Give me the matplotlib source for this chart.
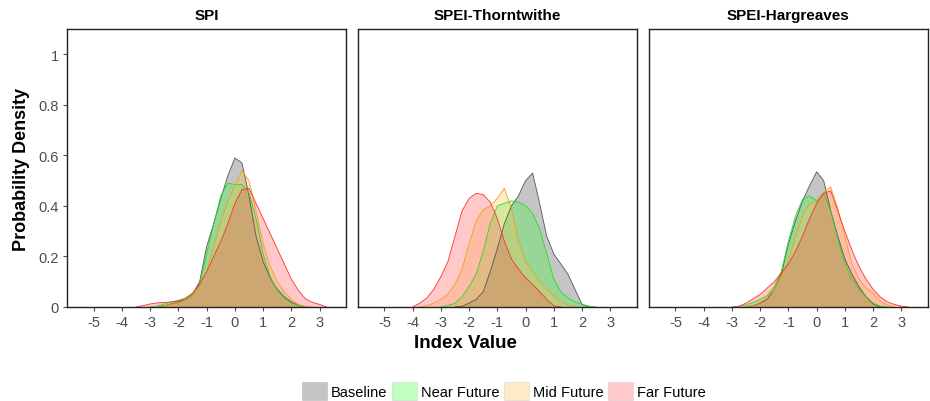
import numpy as np
import matplotlib
matplotlib.use("Agg")
import matplotlib.pyplot as plt
from matplotlib.patches import Patch

plt.rcParams['font.family'] = ['Liberation Sans', 'DejaVu Sans']

# common x grid of the density curves
xs = [-4, -3.75, -3.5, -3.25, -3, -2.75, -2.5, -2.25, -2, -1.75, -1.5, -1.25,
      -1, -0.75, -0.5, -0.25, 0, 0.25, 0.5, 0.75, 1, 1.25, 1.5, 1.75,
      2, 2.25, 2.5, 2.75, 3, 3.25]

panels = ['SPI', 'SPEI-Thorntwithe', 'SPEI-Hargreaves']
periods = ['Baseline', 'Near Future', 'Mid Future', 'Far Future']

# SPI
spi_base = [0, 0, 0, 0, 0, 0, 0.005, 0.012, 0.02, 0.03, 0.05, 0.1,
            0.24, 0.33, 0.43, 0.52, 0.59, 0.57, 0.44, 0.28, 0.18, 0.115, 0.07, 0.04,
            0.02, 0.006, 0, 0, 0, 0]
spi_near = [0, 0, 0, 0, 0, 0.003, 0.012, 0.02, 0.025, 0.03, 0.05, 0.09,
            0.21, 0.33, 0.44, 0.49, 0.485, 0.485, 0.45, 0.35, 0.21, 0.12, 0.065, 0.035,
            0.015, 0.005, 0, 0, 0, 0]
spi_mid = [0, 0, 0, 0, 0, 0, 0.005, 0.01, 0.015, 0.025, 0.04, 0.08,
           0.14, 0.24, 0.34, 0.42, 0.48, 0.54, 0.5, 0.38, 0.25, 0.16, 0.1, 0.06,
           0.03, 0.01, 0.002, 0, 0, 0]
spi_far = [0, 0, 0, 0.005, 0.012, 0.016, 0.018, 0.02, 0.025, 0.035, 0.055, 0.09,
           0.14, 0.2, 0.26, 0.33, 0.41, 0.465, 0.47, 0.41, 0.35, 0.29, 0.23, 0.17,
           0.11, 0.065, 0.032, 0.018, 0.01, 0]

# SPEI-Thornthwaite
th_base = [0, 0, 0, 0, 0, 0, 0, 0.003, 0.015, 0.03, 0.06, 0.14,
           0.23, 0.33, 0.4, 0.44, 0.5, 0.53, 0.41, 0.28, 0.21, 0.17, 0.13, 0.07,
           0.01, 0, 0, 0, 0, 0]
th_near = [0, 0, 0, 0, 0, 0.005, 0.015, 0.04, 0.08, 0.13, 0.22, 0.33,
           0.4, 0.41, 0.42, 0.415, 0.4, 0.37, 0.31, 0.21, 0.11, 0.06, 0.035, 0.02,
           0.01, 0.003, 0, 0, 0, 0]
th_mid = [0, 0, 0.005, 0.015, 0.03, 0.05, 0.09, 0.15, 0.25, 0.34, 0.385, 0.4,
          0.43, 0.47, 0.39, 0.26, 0.18, 0.14, 0.1, 0.07, 0.045, 0.02, 0.008, 0,
          0, 0, 0, 0, 0, 0]
th_far = [0, 0.015, 0.035, 0.07, 0.12, 0.18, 0.28, 0.38, 0.43, 0.45, 0.445, 0.415,
          0.35, 0.26, 0.19, 0.15, 0.115, 0.09, 0.06, 0.03, 0.005, 0, 0, 0,
          0, 0, 0, 0, 0, 0]

# SPEI-Hargreaves
hg_base = [0, 0, 0, 0, 0, 0, 0, 0.005, 0.015, 0.03, 0.07, 0.13,
           0.25, 0.34, 0.42, 0.48, 0.535, 0.5, 0.38, 0.28, 0.19, 0.13, 0.08, 0.04,
           0.012, 0, 0, 0, 0, 0]
hg_near = [0, 0, 0, 0, 0, 0, 0.008, 0.018, 0.03, 0.045, 0.08, 0.14,
           0.26, 0.36, 0.425, 0.44, 0.42, 0.45, 0.38, 0.27, 0.17, 0.11, 0.07, 0.04,
           0.015, 0.003, 0, 0, 0, 0]
hg_mid = [0, 0, 0, 0, 0, 0, 0, 0.006, 0.018, 0.04, 0.07, 0.12,
          0.18, 0.28, 0.36, 0.41, 0.415, 0.455, 0.475, 0.39, 0.28, 0.17, 0.11, 0.075,
          0.055, 0.025, 0.008, 0, 0, 0]
hg_far = [0, 0, 0, 0, 0, 0.003, 0.015, 0.032, 0.05, 0.075, 0.1, 0.135,
          0.17, 0.22, 0.28, 0.35, 0.41, 0.45, 0.46, 0.38, 0.3, 0.225, 0.16, 0.11,
          0.07, 0.04, 0.02, 0.01, 0.003, 0]

curves = [[spi_base, spi_near, spi_mid, spi_far],
          [th_base, th_near, th_mid, th_far],
          [hg_base, hg_near, hg_mid, hg_far]]

fills = ['#7f7f7f', '#33ff33', '#ffc04d', '#ff4d4d']
edges = ['#555555', '#22dd22', '#f0a020', '#ff3030']
alphas = [0.45, 0.3, 0.3, 0.3]

fig = plt.figure(figsize=(9.3, 4.02), dpi=100)
lefts = [0.072, 0.3845, 0.6975]
for i, name in enumerate(panels):
    ax = fig.add_axes([lefts[i], 0.234, 0.3005, 0.691])
    for k in range(4):
        x = np.array(xs)
        y = np.array(curves[i][k])
        nz = np.nonzero(y)[0]
        lo = max(nz[0] - 1, 0)
        hi = min(nz[-1] + 2, len(y))
        ax.fill_between(x[lo:hi], y[lo:hi], 0, facecolor=fills[k], alpha=alphas[k],
                        edgecolor='none')
        ax.plot(x[lo:hi], y[lo:hi], color=edges[k], lw=0.6)
    ax.set_xlim(-5.95, 3.95)
    ax.set_ylim(0, 1.1)
    ax.set_xticks([-5, -4, -3, -2, -1, 0, 1, 2, 3])
    ax.set_xticklabels(['-5', '-4', '-3', '-2', '-1', '0', '1', '2', '3'])
    ax.tick_params(axis='x', labelsize=10.5, colors='#4d4d4d', length=3, pad=3)
    ax.set_title(name, fontsize=11, fontweight='bold', pad=7)
    for s in ax.spines.values():
        s.set_color('#222222')
        s.set_linewidth(1.0)
    if i == 0:
        ax.set_yticks([0, 0.2, 0.4, 0.6, 0.8, 1.0])
        ax.set_yticklabels(['0', '0.2', '0.4', '0.6', '0.8', '1'])
        ax.tick_params(axis='y', labelsize=10.5, colors='#4d4d4d', length=3, pad=3)
        ax.set_ylabel('Probability Density', fontsize=13, fontweight='bold', labelpad=6)
    else:
        ax.set_yticks([])

fig.text(0.5, 0.145, 'Index Value', ha='center', va='center',
         fontsize=13.5, fontweight='bold')

handles = [Patch(facecolor=fills[k], alpha=alphas[k], edgecolor='#999999', lw=0.5)
           for k in range(4)]
fig.legend(handles, periods, loc='center', bbox_to_anchor=(0.542, 0.025), ncol=4,
           frameon=False, fontsize=10.5, handlelength=1.7, handleheight=1.5,
           handletextpad=0.3, columnspacing=0.3)

fig.savefig('out.png', dpi=100)
